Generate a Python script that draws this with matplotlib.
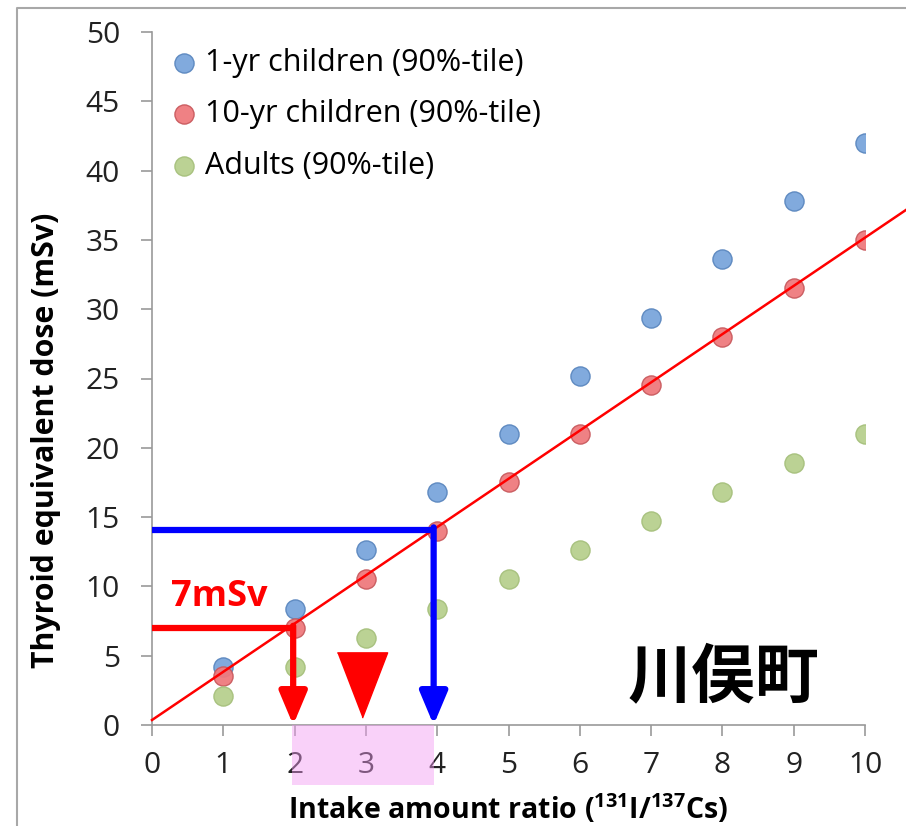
import matplotlib.pyplot as plt
import matplotlib.lines as mlines
from matplotlib.patches import Rectangle
import numpy as np

# --- data ---
ratio = np.array([1, 2, 3, 4, 5, 6, 7, 8, 9, 10])
dose_1yr = np.array([4.2, 8.4, 12.6, 16.8, 21.0, 25.2, 29.4, 33.6, 37.8, 42.0])
dose_10yr = np.array([3.5, 7.0, 10.5, 14.0, 17.5, 21.0, 24.5, 28.0, 31.5, 35.0])
dose_adult = np.array([2.1, 4.2, 6.3, 8.4, 10.5, 12.6, 14.7, 16.8, 18.9, 21.0])

# fitted red line (runs past the plot edge)
fit_x = np.array([0, 10.6])
fit_y = np.array([0.36, 37.25])

# guide lines
blue_dose, blue_ratio = 14.1, 3.95
red_dose, red_ratio = 7.0, 1.98
band = (1.97, 3.95)
marker_ratio, marker_dose = 2.95, 2.85

labels = ['1-yr children (90%-tile)', '10-yr children (90%-tile)', 'Adults (90%-tile)']

plt.rcParams['font.family'] = ['Open Sans', 'DejaVu Sans']
plt.rcParams['mathtext.fontset'] = 'custom'
plt.rcParams['mathtext.rm'] = 'Open Sans'
plt.rcParams['mathtext.bf'] = 'Open Sans:bold'

fig = plt.figure(figsize=(9.06, 8.26), dpi=100)
ax = fig.add_axes([152/906, 1 - 725/826, 713/906, 693/826])

# frame around the picture (only top/left visible)
fig.add_artist(mlines.Line2D([17/906, 17/906, 1], [0, 1 - 8/826, 1 - 8/826],
                             transform=fig.transFigure, color='#a8a8a8', lw=1.5))

ax.scatter(ratio, dose_1yr, s=190, color='#7aa6dc', edgecolor='#5b87bf', lw=1, alpha=0.95, label=labels[0], zorder=3)
ax.scatter(ratio, dose_10yr, s=190, color='#ef7a7d', edgecolor='#c95a5e', lw=1, alpha=0.95, label=labels[1], zorder=3)
ax.scatter(ratio, dose_adult, s=190, color='#b8d08e', edgecolor='#a6c07c', lw=1, alpha=0.95, label=labels[2], zorder=3)

ax.plot(fit_x, fit_y, color='red', lw=1.8, clip_on=False, zorder=4)

# threshold guides
for dose, r, c in [(blue_dose, blue_ratio, '#0000ff'), (red_dose, red_ratio, '#ff0000')]:
    ax.plot([0, r], [dose, dose], color=c, lw=4.5, solid_capstyle='butt', zorder=5)
    ax.annotate('', xy=(r, 0), xytext=(r, dose + 0.16),
                arrowprops=dict(arrowstyle='-|>,head_length=1.0,head_width=0.42',
                                color=c, lw=4.5, mutation_scale=20,
                                shrinkA=0, shrinkB=0), zorder=5)

tri = [(-0.77, 1), (0.77, 1), (0, -1)]
ax.plot([marker_ratio], [marker_dose], marker=tri, markersize=47, color='red', lw=0, zorder=5)

ax.text(0.94, 9.2, '7mSv', color='red', fontsize=26, fontweight='bold', ha='center', va='center')
ax.text(8.02, 3.4, '川俣町', fontsize=46, fontweight='bold', ha='center', va='center',
        family=['Noto Sans CJK JP', 'DejaVu Sans'])

ax.set_xlim(0, 10)
ax.set_ylim(0, 50)
ax.set_xticks(range(0, 11))
ax.set_yticks(range(0, 51, 5))
for s in ['top', 'right']:
    ax.spines[s].set_visible(False)
for s in ['left', 'bottom']:
    ax.spines[s].set_color('#999999')
    ax.spines[s].set_linewidth(1.2)
ax.tick_params(axis='both', direction='out', length=8, color='#999999', width=1.2,
               labelsize=21.5, labelcolor='#222222')
ax.tick_params(axis='y', pad=15)
ax.tick_params(axis='x', pad=11)

ax.set_ylabel('Thyroid equivalent dose (mSv)', fontsize=21.8, fontweight='bold')
ax.yaxis.set_label_coords(-0.128, 0.411)
ax.set_xlabel(r'Intake amount ratio ($^{\mathbf{131}}$I/$^{\mathbf{137}}$Cs)', fontsize=20.5,
              fontweight='bold', labelpad=8.5)

# pink band over the x tick labels
ax.add_patch(Rectangle((band[0], -4.3), band[1] - band[0], 4.3, color='#f29af2', alpha=0.45,
                       lw=0, clip_on=False, zorder=6))

ax.legend(loc='upper left', bbox_to_anchor=(0.01, 0.99), frameon=False, fontsize=22,
          handlelength=1.0, handletextpad=0.2, labelspacing=0.7, borderaxespad=0.0,
          borderpad=0.3, markerscale=1.0)

fig.savefig('out.png', dpi=100)
